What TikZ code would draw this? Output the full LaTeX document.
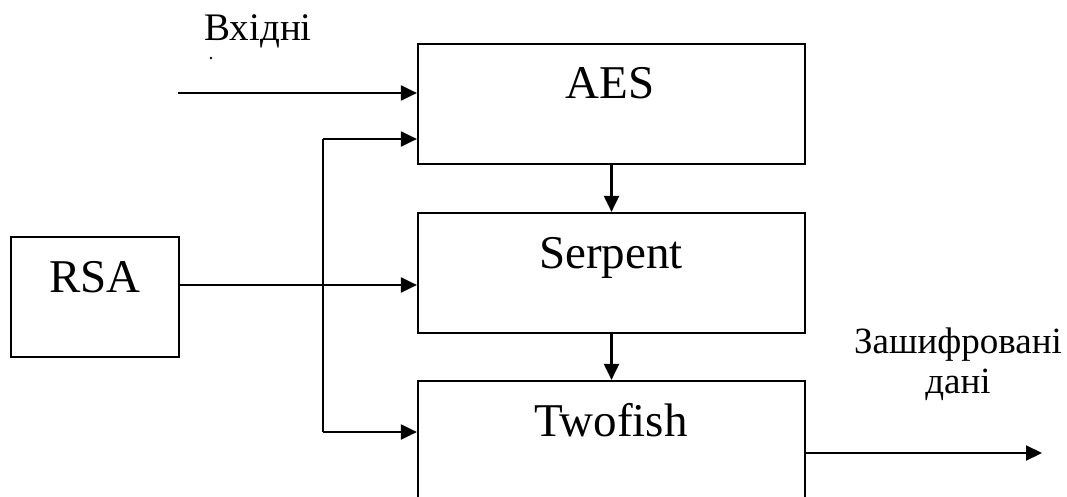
\documentclass[tikz,border=0pt]{standalone}
\usepackage{fontspec}
\setmainfont{Liberation Serif}
\usetikzlibrary{arrows.meta}

\tikzset{
  box/.style={draw, line width=2.2pt, minimum width=387pt, minimum height=120pt, inner sep=0pt},
  boxtext/.style={anchor=base, inner sep=0pt, font=\fontsize{47}{56}\selectfont},
  sidetext/.style={anchor=base, inner sep=0pt, font=\fontsize{39}{40}\selectfont},
  outtext/.style={anchor=base, inner sep=0pt, font=\fontsize{37}{40}\selectfont},
  link/.style={line width=2.1pt},
  arr/.style={link, -{Triangle[length=16pt,width=15pt]}},
}

\begin{document}
\begin{tikzpicture}[x=1pt, y=-1pt]
  \useasboundingbox (0,0) rectangle (1067,497);
  \clip (0,0) rectangle (1067,497);

  % cipher blocks
  \node[box] (aes) at (611.5,104) {};
  \node[box] (serpent) at (611.5,273) {};
  \node[box, minimum height=140pt] (twofish) at (611.5,451) {};
  \node[box, minimum width=168pt] (rsa) at (95,297) {};

  \node[boxtext] (aest) at (610,99) {AES};
  \node[boxtext] (serpentt) at (611,268) {Serpent};
  \node[boxtext] (twofisht) at (611,436) {Twofish};
  \node[boxtext] (rsat) at (95,292) {RSA};

  % side captions
  \node[sidetext] (intext) at (258,41) {Вхідні};
  \fill (211,58) circle (1.3pt);
  \node[outtext] (outtext1) at (958,353) {Зашифровані};
  \node[outtext] (outtext2) at (958,393) {дані};

  % helper points
  \coordinate (in) at (178,93);
  \coordinate (bustop) at (323,139);
  \coordinate (busbot) at (323,432);
  \coordinate (rsaout) at (179,285);
  \coordinate (out) at (1042,453);

  % connectors
  \draw[arr] (in) -- (in -| aes.west);
  \draw[link] (bustop) -- (busbot);
  \draw[arr] (bustop) -- (bustop -| aes.west);
  \draw[arr] (busbot) -- (busbot -| twofish.west);
  \draw[arr] (rsaout) -- (rsaout -| serpent.west);
  \draw[arr] (aes.south) -- (serpent.north);
  \draw[arr] (serpent.south) -- (twofish.north);
  \draw[arr] (out -| twofish.east) -- (out);
\end{tikzpicture}
\end{document}
